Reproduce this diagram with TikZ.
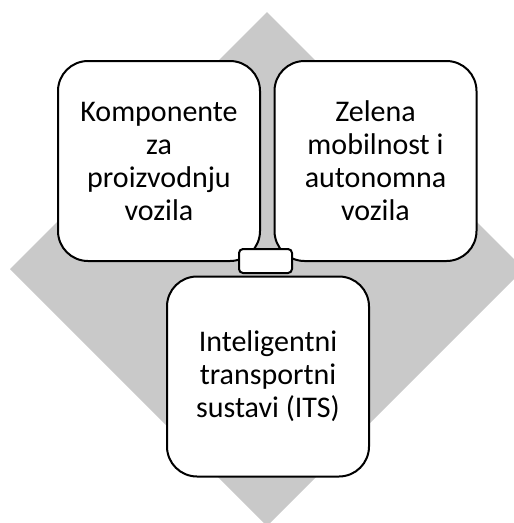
\documentclass[tikz,border=0pt]{standalone}
\usepackage{fontspec}
\setmainfont{Carlito}
\begin{document}
\begin{tikzpicture}[x=1pt,y=1pt,
  card/.style={draw=black, line width=2pt, fill=white, rounded corners=30pt,
    minimum width=202pt, minimum height=200pt, align=center, inner sep=0pt,
    font=\fontsize{30}{33}\selectfont},
  tab/.style={draw=black, line width=2pt, fill=white, rounded corners=4pt,
    minimum width=53pt, minimum height=24pt, inner sep=0pt}]
\useasboundingbox (0,0) rectangle (514,-523);
\clip (0,0) rectangle (514,-523);
\fill[gray!42] (267,-12) -- (524,-269) -- (267,-526) -- (10,-269) -- cycle;
\node[card] (left) at (159,-161) {Komponente\\za\\proizvodnju\\vozila};
\node[card] (right) at (375.5,-161) {Zelena\\mobilnost i\\autonomna\\vozila};
\node[card] (bottom) at (268,-376.5) {Inteligentni\\transportni\\sustavi (ITS)};
\node[tab] (hub) at (265.5,-261) {};
\end{tikzpicture}
\end{document}
